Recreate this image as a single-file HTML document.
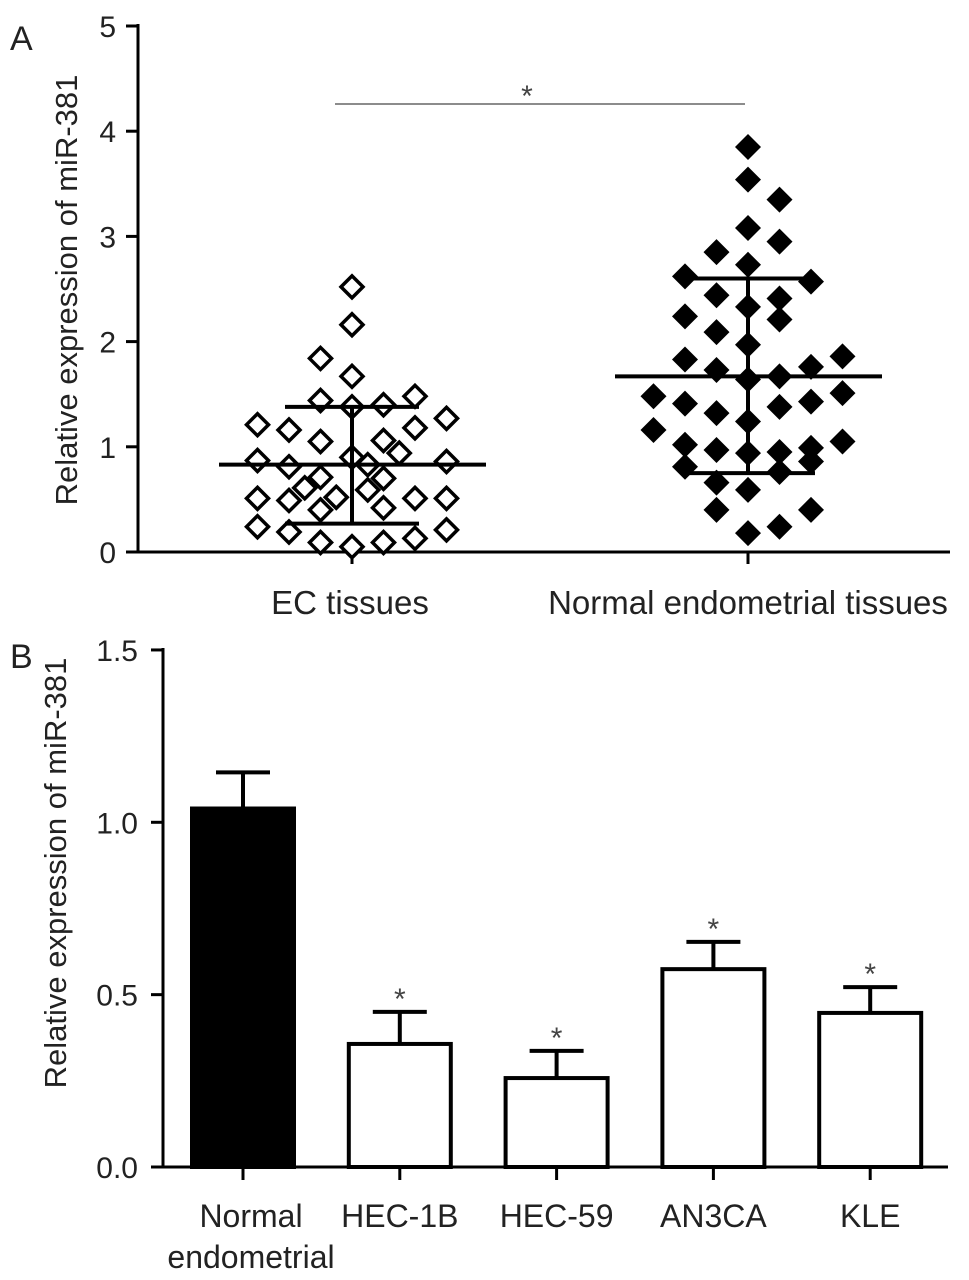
<!DOCTYPE html>
<html><head><meta charset="utf-8"><style>
html,body{margin:0;padding:0;background:#fff;}
svg{display:block;font-family:"Liberation Sans",Arial,sans-serif;}
</style></head><body>
<svg id="fig" width="969" height="1280" viewBox="0 0 969 1280" xmlns="http://www.w3.org/2000/svg"></svg>
<script>
// Panel A data
const groupsA = ["EC tissues", "Normal endometrial tissues"];
const ecValues = [2.52,2.16,1.84,1.67,1.44,1.48,1.40,1.38,1.21,1.16,1.27,1.18,1.05,1.06,0.87,0.81,0.86,0.94,0.71,0.70,0.61,0.51,0.49,0.51,0.51,0.52,0.59,0.40,0.42,0.24,0.19,0.21,0.13,0.09,0.05,0.09,0.90,0.83];
const ecJitter = [0,0,-1,0,-1,2,1,0,-3,-2,3,2,-1,1,-3,-2,3,1.5,-1,1,-1.5,-3,-2,2,3,-0.5,0.5,-1,1,-3,-2,3,2,-1,0,1,0,0.5];
const normValues = [3.85,3.54,3.35,3.08,2.95,2.85,2.73,2.62,2.57,2.44,2.41,2.33,2.24,2.21,2.09,1.97,1.83,1.86,1.76,1.73,1.64,1.67,1.48,1.41,1.43,1.51,1.38,1.32,1.24,1.16,1.05,1.02,0.97,0.94,0.95,0.99,0.81,0.86,0.76,0.66,0.59,0.40,0.40,0.18,0.24];
const normJitter = [0,0,1,0,1,-1,0,-2,2,-1,1,0,-2,1,-1,0,-2,3,2,-1,0,1,-3,-2,2,3,1,-1,0,-3,3,-2,-1,0,1,2,-2,2,1,-1,0,-1,2,0,1];
const meanA = [0.83, 1.67];
const sdLowA = [0.27, 0.75];
const sdHighA = [1.38, 2.60];
const ticksA = [0,1,2,3,4,5];
// Panel B data
const catsB = ["Normal|endometrial","HEC-1B","HEC-59","AN3CA","KLE"];
const barVals = [1.04,0.357,0.258,0.574,0.447];
const barErr = [0.105,0.093,0.079,0.079,0.075];
const ticksB = ["0.0","0.5","1.0","1.5"];

const svg = document.getElementById('fig');
const NS = "http://www.w3.org/2000/svg";
function el(tag, attrs, parent){const e=document.createElementNS(NS,tag);for(const k in attrs)e.setAttribute(k,attrs[k]);(parent||svg).appendChild(e);return e;}
function txt(s, attrs, parent){const e=el('text',attrs,parent);e.textContent=s;return e;}

// ---------- Panel A ----------
const yA = v => 552 - v*105.2;
const xA = i => [352, 748][i];
const colW = 31.5;
const gA = el('g',{});


txt('A',{x:10,y:50,'font-size':34,fill:'#222'},gA);
el('line',{x1:138,y1:24,x2:138,y2:553,stroke:'#000','stroke-width':3},gA);
el('line',{x1:137,y1:552,x2:950,y2:552,stroke:'#000','stroke-width':3},gA);
ticksA.forEach(t=>{
  const l=el('line',{x1:126,y1:yA(t),x2:138,y2:yA(t),stroke:'#000','stroke-width':3},gA);
  
  const tx=txt(String(t),{x:116,y:yA(t)+11,'font-size':30,'text-anchor':'end',fill:'#222'},gA);
  
});
groupsA.forEach((g,i)=>{
  el('line',{x1:xA(i),y1:552,x2:xA(i),y2:564,stroke:'#000','stroke-width':3},gA);
  const t=txt(g,{x:xA(i)-(i?0:2),y:614,'font-size':33,'text-anchor':'middle',fill:'#222'},gA);
  
});
const yl=txt('Relative expression of miR-381',{x:0,y:0,'font-size':31,'text-anchor':'middle',fill:'#222',transform:'translate(77,290) rotate(-90)'},gA);

function diamond(cx,cy,filled,parent){
  const r=filled?13:11;
  const p=el('polygon',{points:`${cx},${cy-r} ${cx+r},${cy} ${cx},${cy+r} ${cx-r},${cy}`,fill:filled?'#000':'#fff',stroke:'#000','stroke-width':filled?0:3.5},parent);
  return p;
}
ecValues.forEach((v,k)=>{const p=diamond(xA(0)+ecJitter[k]*colW,yA(v),false,gA);});
normValues.forEach((v,k)=>{const p=diamond(xA(1)+normJitter[k]*colW,yA(v),true,gA);});
[0,1].forEach(i=>{
  const cx=xA(i);
  el('line',{x1:cx-133,y1:yA(meanA[i]),x2:cx+134,y2:yA(meanA[i]),stroke:'#000','stroke-width':4},gA);
  el('line',{x1:cx,y1:yA(sdLowA[i]),x2:cx,y2:yA(sdHighA[i]),stroke:'#000','stroke-width':4},gA);
  el('line',{x1:cx-67,y1:yA(sdHighA[i]),x2:cx+67,y2:yA(sdHighA[i]),stroke:'#000','stroke-width':4},gA);
  el('line',{x1:cx-67,y1:yA(sdLowA[i]),x2:cx+67,y2:yA(sdLowA[i]),stroke:'#000','stroke-width':4},gA);
});
el('line',{x1:335,y1:104,x2:745,y2:104,stroke:'#666','stroke-width':1.5},gA);
txt('*',{x:527,y:106,'font-size':30,'text-anchor':'middle',fill:'#444'},gA);

// ---------- Panel B ----------
const yB = v => 1167 - v*344.7;
const xB = i => 243 + i*156.8;
const bw = 106;
const gB = el('g',{});


txt('B',{x:10,y:668,'font-size':34,fill:'#222'},gB);
el('line',{x1:163,y1:648,x2:163,y2:1168,stroke:'#000','stroke-width':3},gB);
el('line',{x1:162,y1:1167,x2:948,y2:1167,stroke:'#000','stroke-width':3},gB);
ticksB.forEach(t=>{
  const v=parseFloat(t);
  el('line',{x1:151,y1:yB(v),x2:163,y2:yB(v),stroke:'#000','stroke-width':3},gB);
  txt(t,{x:138,y:yB(v)+11,'font-size':30,'text-anchor':'end',fill:'#222'},gB);
});
const yl2=txt('Relative expression of miR-381',{x:0,y:0,'font-size':31,'text-anchor':'middle',fill:'#222',transform:'translate(66,873) rotate(-90)'},gB);

barVals.forEach((v,i)=>{
  const cx=xB(i), top=yB(v), et=yB(v+barErr[i]);
  el('line',{x1:cx,y1:top,x2:cx,y2:et,stroke:'#000','stroke-width':4},gB);
  el('line',{x1:cx-27,y1:et,x2:cx+27,y2:et,stroke:'#000','stroke-width':4},gB);
  const r=el('rect',{x:cx-bw/2+2,y:top,width:bw-4,height:1167-top,fill:i===0?'#000':'#fff',stroke:'#000','stroke-width':4},gB);
  
  
  if(i>0){txt('*',{x:cx,y:et-3,'font-size':30,'text-anchor':'middle',fill:'#444'},gB);}
  el('line',{x1:cx,y1:1167,x2:cx,y2:1180,stroke:'#000','stroke-width':3},gB);
  const parts=catsB[i].split('|');
  parts.forEach((p,j)=>{
    const t=txt(p,{x:cx+(i===0?8:0),y:1227+j*41,'font-size':32,'text-anchor':'middle',fill:'#222'},gB);
    
  });
});
</script>
</body></html>
